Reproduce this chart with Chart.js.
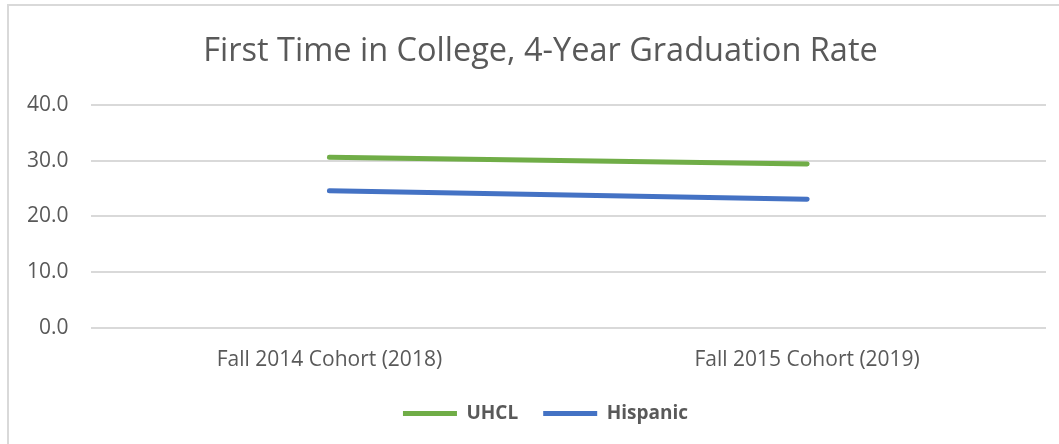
<!DOCTYPE html>
<html>
<head>
<meta charset="utf-8">
<script src="https://cdn.jsdelivr.net/npm/chart.js@4"></script>
<style>
  html, body { margin: 0; padding: 0; background: #fff; }
  #wrap { position: relative; width: 1059px; height: 444px; overflow: hidden; }
  #frame { position: absolute; left: 7px; top: 4px; width: 1070px; height: 460px;
           border-left: 2px solid #d9d9d9; border-top: 2px solid #d9d9d9; box-sizing: border-box; }
  canvas { position: absolute; left: 0; top: 0; }
</style>
</head>
<body>
<div id="wrap">
  <div id="frame"></div>
  <canvas id="c" width="1059" height="444"></canvas>
</div>
<script>
const categories = ["Fall 2014 Cohort (2018)", "Fall 2015 Cohort (2019)"];
const uhclValues = [30.6, 29.4];
const hispanicValues = [24.6, 23.1];
const yTicks = [0, 10, 20, 30, 40];
const titleText = "First Time in College, 4-Year Graduation Rate";

const FONT = "'Open Sans', 'Liberation Sans', sans-serif";
const TXT = "#595959";

// The reference chart's frame extends past the right edge, so its centred
// title and legend sit a little right of the visible centre.
const shiftBoxes = {
  id: "shiftBoxes",
  afterLayout(chart) {
    if (chart.titleBlock) { chart.titleBlock.left += 15; chart.titleBlock.right += 15; }
    if (chart.legend) {
      chart.legend.left += 20; chart.legend.right += 20;
      chart.legend.top -= 6; chart.legend.bottom -= 6;
    }
  }
};

new Chart(document.getElementById("c"), {
  type: "line",
  data: {
    labels: categories,
    datasets: [
      { label: "UHCL", data: uhclValues, borderColor: "#70AD47", backgroundColor: "#70AD47",
        borderWidth: 5, borderCapStyle: "round", pointRadius: 0, pointStyle: "line", tension: 0 },
      { label: "Hispanic", data: hispanicValues, borderColor: "#4472C4", backgroundColor: "#4472C4",
        borderWidth: 5, borderCapStyle: "round", pointRadius: 0, pointStyle: "line", tension: 0 }
    ]
  },
  plugins: [shiftBoxes],
  options: {
    responsive: false,
    animation: false,
    layout: { padding: { left: 5, right: 13, top: 24, bottom: 5 } },
    plugins: {
      title: { display: true, text: titleText, color: TXT,
               font: { family: FONT, size: 32.5, weight: "normal" }, padding: { top: 8, bottom: 34 } },
      legend: { position: "bottom",
                labels: { usePointStyle: true, pointStyleWidth: 54, boxHeight: 5, color: TXT,
                          font: { family: FONT, size: 19, weight: "bold" }, padding: 25 } },
      tooltip: { enabled: false }
    },
    scales: {
      x: { offset: true, grid: { display: false }, border: { display: false },
           ticks: { color: TXT, font: { family: FONT, size: 21 }, padding: 12 } },
      y: { min: 0, max: 40, afterBuildTicks: (s) => { s.ticks = yTicks.map(v => ({ value: v })); },
           grid: { color: "#d9d9d9", lineWidth: 2, drawTicks: false }, border: { display: false },
           ticks: { color: TXT, font: { family: FONT, size: 21 }, padding: 22,
                    callback: (v) => Number(v).toFixed(1) } }
    }
  }
});
</script>
</body>
</html>
